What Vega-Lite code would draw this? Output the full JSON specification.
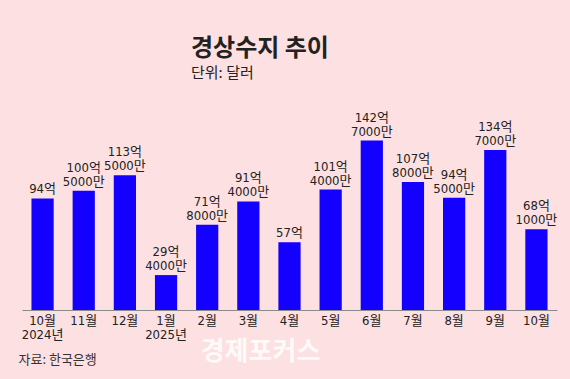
{
  "$schema": "https://vega.github.io/schema/vega-lite/v6.json",
  "autosize": "none",
  "width": 535,
  "height": 190,
  "padding": {"left": 22, "top": 120, "right": 13, "bottom": 69},
  "background": "#fde0e1",
  "title": {
    "text": "경상수지 추이",
    "subtitle": "단위: 달러",
    "anchor": "start",
    "dx": 173,
    "offset": 31,
    "font": "Noto Sans CJK KR",
    "fontSize": 24,
    "fontWeight": "bold",
    "color": "#222222",
    "subtitleFont": "Noto Sans CJK KR",
    "subtitleFontSize": 15,
    "subtitleColor": "#222222",
    "subtitlePadding": 5
  },
  "config": {
    "view": {"stroke": null}
  },
  "data": {
    "values": [
      {"month": "10월|2024년", "value": 94.0, "top": "", "bottom": "94억"},
      {"month": "11월", "value": 100.5, "top": "100억", "bottom": "5000만"},
      {"month": "12월", "value": 113.5, "top": "113억", "bottom": "5000만"},
      {"month": "1월|2025년", "value": 29.4, "top": "29억", "bottom": "4000만"},
      {"month": "2월", "value": 71.8, "top": "71억", "bottom": "8000만"},
      {"month": "3월", "value": 91.4, "top": "91억", "bottom": "4000만"},
      {"month": "4월", "value": 57.0, "top": "", "bottom": "57억"},
      {"month": "5월", "value": 101.4, "top": "101억", "bottom": "4000만"},
      {"month": "6월", "value": 142.7, "top": "142억", "bottom": "7000만"},
      {"month": "7월", "value": 107.8, "top": "107억", "bottom": "8000만"},
      {"month": "8월", "value": 94.5, "top": "94억", "bottom": "5000만"},
      {"month": "9월", "value": 134.7, "top": "134억", "bottom": "7000만"},
      {"month": "10월", "value": 68.1, "top": "68억", "bottom": "1000만"}
    ]
  },
  "encoding": {
    "x": {
      "field": "month",
      "type": "nominal",
      "sort": null,
      "scale": {"paddingInner": 0.46, "paddingOuter": 0.23},
      "axis": {
        "title": "자료: 한국은행",
        "titleFont": "Noto Sans CJK KR",
        "titleFontSize": 13,
        "titleFontWeight": "normal",
        "titleColor": "#333333",
        "titleAnchor": "start",
        "titleAlign": "left",
        "titleBaseline": "alphabetic",
        "titleX": -4,
        "titleY": 53,
        "labelExpr": "split(datum.label, '|')",
        "labelAngle": 0,
        "labelFont": "Liberation Sans Narrow, DejaVu Sans Condensed, Noto Sans CJK KR",
        "labelFontSize": 13,
        "labelColor": "#222222",
        "labelLineHeight": 14,
        "labelPadding": 4,
        "ticks": false,
        "domainColor": "#8a8a8a",
        "domainWidth": 1
      }
    },
    "y": {
      "field": "value",
      "type": "quantitative",
      "scale": {"domain": [0, 160]},
      "axis": {
        "title": "경제포커스",
        "titleFont": "Noto Sans CJK KR",
        "titleFontSize": 26,
        "titleFontWeight": "bold",
        "titleColor": "#ffffff",
        "titleOpacity": 0.85,
        "titleAngle": 0,
        "titleAlign": "center",
        "titleBaseline": "middle",
        "titleX": 238,
        "titleY": 231,
        "labels": false,
        "ticks": false,
        "domain": false,
        "grid": false
      }
    }
  },
  "layer": [
    {"mark": {"type": "bar", "color": "#1400ff"}},
    {
      "mark": {
        "type": "text",
        "baseline": "bottom",
        "dy": -2,
        "font": "Liberation Sans Narrow, DejaVu Sans Condensed, Noto Sans CJK KR",
        "fontSize": 13,
        "color": "#222222"
      },
      "encoding": {"text": {"field": "bottom"}}
    },
    {
      "mark": {
        "type": "text",
        "baseline": "bottom",
        "dy": -16,
        "font": "Liberation Sans Narrow, DejaVu Sans Condensed, Noto Sans CJK KR",
        "fontSize": 13,
        "color": "#222222"
      },
      "encoding": {"text": {"field": "top"}}
    }
  ]
}
